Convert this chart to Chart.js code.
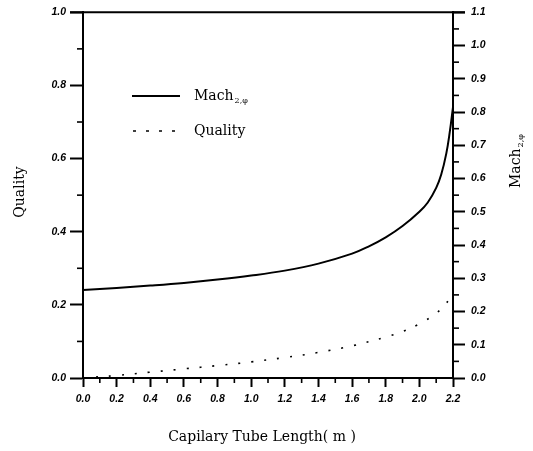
<!DOCTYPE html>
<html>
<head>
<meta charset="utf-8">
<script src="https://cdn.jsdelivr.net/npm/chart.js@4/dist/chart.umd.min.js"></script>
<style>
  html, body { margin: 0; padding: 0; background: #fff; }
  #wrap { width: 533px; height: 451px; }
</style>
</head>
<body>
<div id="wrap"><canvas id="chart" width="533" height="451"></canvas></div>
<script>
// Mach number along the tube (right axis)
const machLength = [0.0, 0.2, 0.4, 0.6, 0.8, 1.0, 1.2, 1.4, 1.6, 1.7, 1.8, 1.9, 2.0, 2.05, 2.1, 2.13, 2.16, 2.18, 2.2];
const machValues = [0.265, 0.271, 0.278, 0.286, 0.296, 0.308, 0.323, 0.344, 0.374, 0.396, 0.423, 0.457, 0.5, 0.528, 0.572, 0.612, 0.675, 0.737, 0.815];

// Quality along the tube (left axis)
const qualityLength = [0.0, 0.2, 0.4, 0.6, 0.8, 1.0, 1.2, 1.4, 1.6, 1.8, 1.9, 2.0, 2.1, 2.15, 2.18];
const qualityValues = [0.0, 0.007, 0.016, 0.025, 0.034, 0.044, 0.056, 0.070, 0.088, 0.112, 0.127, 0.148, 0.177, 0.20, 0.215];

const xMinorTicks = [0.1, 0.3, 0.5, 0.7, 0.9, 1.1, 1.3, 1.5, 1.7, 1.9, 2.1];
const leftMinorTicks = [0.1, 0.3, 0.5, 0.7, 0.9];
const rightMinorTicks = [0.05, 0.15, 0.25, 0.35, 0.45, 0.55, 0.65, 0.75, 0.85, 0.95, 1.05];

const toPoints = (xs, ys) => xs.map((x, i) => ({ x: x, y: ys[i] }));

const tickFont = { family: 'Liberation Sans', size: 10.5, style: 'italic', weight: 'bold' };
const titleFont = '14px "DejaVu Serif"';
const subFont = '8px "DejaVu Serif"';

// minor ticks, frame top line, titles and the inset legend
const decorations = {
    id: 'decorations',
    afterDraw(chart) {
        const ctx = chart.ctx;
        const area = chart.chartArea;
        const s = chart.scales;
        ctx.save();
        ctx.strokeStyle = '#000';
        ctx.lineWidth = 2;

        // top frame line
        ctx.beginPath();
        ctx.moveTo(area.left - 13, area.top);
        ctx.lineTo(area.right + 12, area.top);
        ctx.stroke();

        ctx.lineWidth = 1.6;
        xMinorTicks.forEach(v => {
            const px = s.x.getPixelForValue(v);
            ctx.beginPath();
            ctx.moveTo(px, area.bottom);
            ctx.lineTo(px, area.bottom + 5);
            ctx.stroke();
        });
        leftMinorTicks.forEach(v => {
            const py = s.y.getPixelForValue(v);
            ctx.beginPath();
            ctx.moveTo(area.left, py);
            ctx.lineTo(area.left - 6, py);
            ctx.stroke();
        });
        rightMinorTicks.forEach(v => {
            const py = s.y1.getPixelForValue(v);
            ctx.beginPath();
            ctx.moveTo(area.right, py);
            ctx.lineTo(area.right + 6, py);
            ctx.stroke();
        });

        // axis titles
        ctx.fillStyle = '#000';
        ctx.font = titleFont;
        ctx.textAlign = 'center';
        ctx.textBaseline = 'middle';
        ctx.fillText('Capilary Tube Length( m )', 262, 437);

        ctx.save();
        ctx.translate(20, 192);
        ctx.rotate(-Math.PI / 2);
        ctx.fillText('Quality', 0, 0);
        ctx.restore();

        ctx.save();
        ctx.translate(516, 160);
        ctx.rotate(-Math.PI / 2);
        ctx.textAlign = 'left';
        ctx.fillText('Mach', -28, 0);
        const w = ctx.measureText('Mach').width;
        ctx.font = subFont;
        ctx.fillText('2,\u03c6', -28 + w + 1, 5);
        ctx.restore();

        // legend
        ctx.lineWidth = 2;
        ctx.beginPath();
        ctx.moveTo(132, 96);
        ctx.lineTo(180, 96);
        ctx.stroke();
        ctx.lineWidth = 1.5;
        ctx.setLineDash([3, 10]);
        ctx.beginPath();
        ctx.moveTo(133, 131);
        ctx.lineTo(180, 131);
        ctx.stroke();
        ctx.setLineDash([]);

        ctx.font = titleFont;
        ctx.textAlign = 'left';
        ctx.fillText('Mach', 194, 96);
        const mw = ctx.measureText('Mach').width;
        ctx.font = subFont;
        ctx.fillText('2,\u03c6', 194 + mw + 1, 101);
        ctx.font = titleFont;
        ctx.fillText('Quality', 194, 131);
        ctx.restore();
    }
};

new Chart(document.getElementById('chart'), {
    type: 'line',
    data: {
        datasets: [
            {
                label: 'Mach',
                data: toPoints(machLength, machValues),
                yAxisID: 'y1',
                borderColor: '#000',
                borderWidth: 2,
                pointRadius: 0,
                tension: 0.4,
                fill: false
            },
            {
                label: 'Quality',
                data: toPoints(qualityLength, qualityValues),
                yAxisID: 'y',
                borderColor: '#000',
                borderWidth: 1.6,
                borderDash: [2, 11],
                pointRadius: 0,
                tension: 0.4,
                fill: false
            }
        ]
    },
    options: {
        responsive: false,
        animation: false,
        layout: { padding: { top: 11, left: 0, right: 0, bottom: 0 } },
        plugins: {
            legend: { display: false },
            tooltip: { enabled: false }
        },
        scales: {
            x: {
                type: 'linear',
                min: 0,
                max: 2.2,
                afterFit: scale => { scale.height = 73; },
                border: { color: '#000', width: 2 },
                grid: { drawOnChartArea: false, tickLength: 9, tickWidth: 2, tickColor: '#000' },
                ticks: {
                    stepSize: 0.2,
                    color: '#000',
                    font: tickFont,
                    padding: 6,
                    maxRotation: 0,
                    callback: v => v.toFixed(1)
                }
            },
            y: {
                position: 'left',
                min: 0,
                max: 1,
                afterFit: scale => { scale.width = 83; },
                border: { color: '#000', width: 2 },
                grid: { drawOnChartArea: false, tickLength: 13, tickWidth: 2, tickColor: '#000' },
                ticks: {
                    stepSize: 0.2,
                    color: '#000',
                    font: tickFont,
                    padding: 4,
                    callback: v => v.toFixed(1)
                }
            },
            y1: {
                position: 'right',
                min: 0,
                max: 1.1,
                afterFit: scale => { scale.width = 80; },
                border: { color: '#000', width: 2 },
                grid: { drawOnChartArea: false, tickLength: 12, tickWidth: 2, tickColor: '#000' },
                ticks: {
                    stepSize: 0.1,
                    color: '#000',
                    font: tickFont,
                    padding: 6,
                    callback: v => v.toFixed(1)
                }
            }
        }
    },
    plugins: [decorations]
});
</script>
</body>
</html>
